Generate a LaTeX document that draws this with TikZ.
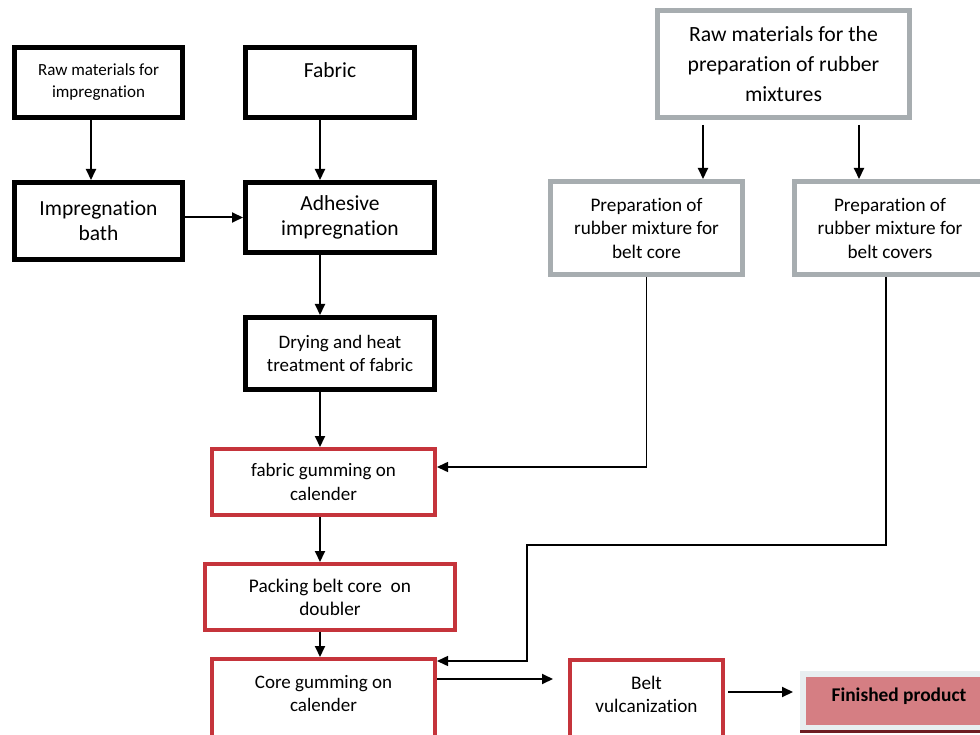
\documentclass[tikz,border=0pt]{standalone}
\usepackage{fontspec}
\setmainfont{Carlito}[Ligatures=NoCommon]
\usetikzlibrary{positioning,arrows.meta,calc}

\definecolor{boxgrey}{HTML}{A7ADB0}
\definecolor{boxred}{HTML}{C5343B}
\definecolor{prodpink}{HTML}{D57E83}
\definecolor{prodedge}{HTML}{E8EEF0}
\definecolor{proddark}{HTML}{6E1D22}

\newcommand{\boxfont}[2]{\fontsize{#1}{#2}\selectfont}

\begin{document}
\begin{tikzpicture}[x=1pt, y=-1pt,
        blackbox/.style={draw=black, line width=5pt, align=center, inner sep=0pt},
        greybox/.style={draw=boxgrey, line width=5pt, align=center, inner sep=0pt},
        redbox/.style={draw=boxred, line width=4pt, align=center, inner sep=0pt},
        flow/.style={-{Triangle[length=11pt,width=10pt]}, line width=2pt},
        link/.style={-{Triangle[length=11pt,width=10pt]}, line width=1.5pt}]

        % Page frame, the picture is cut at the right and bottom
        \useasboundingbox (0,0) rectangle (980,735);
        \clip (0,0) rectangle (980,735);

        % Columns used by the vertical arrows
        \coordinate (impcol) at (91,0);
        \coordinate (midcol) at (320,0);
        \coordinate (corecol) at (703,0);
        \coordinate (covcol) at (859,0);
        \coordinate (bend) at (527,545);

        % Fabric line
        \begin{scope}
            \node[blackbox, minimum width=168pt, minimum height=70pt,
                font=\boxfont{17}{22}] (rawimp) at (98.5,82.5)
            {Raw materials for\\impregnation};
            \node[blackbox, minimum width=169pt, minimum height=70pt,
                font=\boxfont{21.5}{25}] (fabric) at (330,82.5)
            {Fabric\\~};
            \node[blackbox, minimum width=168pt, minimum height=77pt,
                font=\boxfont{21.5}{25}] (impbath) at (98.5,221)
            {Impregnation\\bath};
            \node[blackbox, minimum width=189pt, minimum height=70pt,
                font=\boxfont{21.5}{25}] (adhesive) at (340,217.5)
            {Adhesive\\impregnation};
            \node[blackbox, minimum width=189pt, minimum height=72pt,
                font=\boxfont{19}{23}] (drying) at (340,353.5)
            {Drying and heat\\treatment of fabric};
        \end{scope}

        % Rubber line
        \begin{scope}
            \node[greybox, minimum width=252pt, minimum height=107pt,
                font=\boxfont{21.7}{30}] (rawrub) at (783.5,64)
            {Raw materials for the\\preparation of rubber\\mixtures};
            \node[greybox, minimum width=192pt, minimum height=93pt,
                font=\boxfont{19.2}{23.5}] (prepcore) at (646.5,228)
            {Preparation of\\rubber mixture for\\belt core};
            \node[greybox, minimum width=192pt, minimum height=93pt,
                font=\boxfont{19.2}{23.5}] (prepcov) at (890,228)
            {Preparation of\\rubber mixture for\\belt covers};
        \end{scope}

        % Belt assembly
        \begin{scope}
            \node[redbox, minimum width=223pt, minimum height=66pt,
                font=\boxfont{19}{24}] (fabgum) at (323.5,482)
            {fabric gumming on\\calender};
            \node[redbox, minimum width=250pt, minimum height=66pt,
                font=\boxfont{19.3}{23}] (packing) at (330,597)
            {Packing belt core~ on\\doubler};
            \node[redbox, minimum width=223pt, minimum height=92pt,
                font=\boxfont{19}{23}] (coregum) at (323.5,705)
            {Core gumming on\\calender\\~};
            \node[redbox, minimum width=153pt, minimum height=92pt,
                font=\boxfont{19.2}{23}] (beltvulc) at (646.5,706)
            {Belt\\vulcanization\\~};
            \node[draw=prodedge, fill=prodpink, line width=6pt,
                minimum width=192pt, minimum height=54.5pt, inner sep=0pt,
                text depth=12pt, xshift=-2pt,
                font=\boxfont{19.4}{22}\bfseries] (finished) at (901,700.75)
            {Finished product};
            \draw[proddark, line width=3pt] (finished.south west) -- (finished.south east);
        \end{scope}

        % Arrows
        \draw[flow] (rawimp.south -| impcol) -- (impbath.north -| impcol);
        \draw[flow] (fabric.south -| midcol) -- (adhesive.north -| midcol);
        \draw[flow] (impbath.east |- adhesive.west) -- (adhesive.west);
        \draw[flow] (adhesive.south -| midcol) -- (drying.north -| midcol);
        \draw[flow] (drying.south -| midcol) -- (fabgum.north -| midcol);
        \draw[flow] (fabgum.south -| midcol) -- (packing.north -| midcol);
        \draw[flow] (packing.south -| midcol) -- (coregum.north -| midcol);
        \draw[flow, shorten <=5pt] (rawrub.south -| corecol) -- (prepcore.north -| corecol);
        \draw[flow, shorten <=5pt] (rawrub.south -| covcol) -- (prepcov.north -| covcol);
        \draw[link] (prepcore.south) |- ([yshift=15pt]fabgum.east);
        \draw[link] ([xshift=-4pt]prepcov.south) |- (bend) |- ([yshift=44pt]coregum.east);
        \draw[flow, shorten >=15pt] ([yshift=26pt]coregum.east)
            -- ([yshift=26pt]coregum.east -| beltvulc.west);
        \draw[flow, shorten <=3pt, shorten >=7pt] ([yshift=14pt]beltvulc.east)
            -- ([yshift=14pt]beltvulc.east -| finished.west);

\end{tikzpicture}
\end{document}
